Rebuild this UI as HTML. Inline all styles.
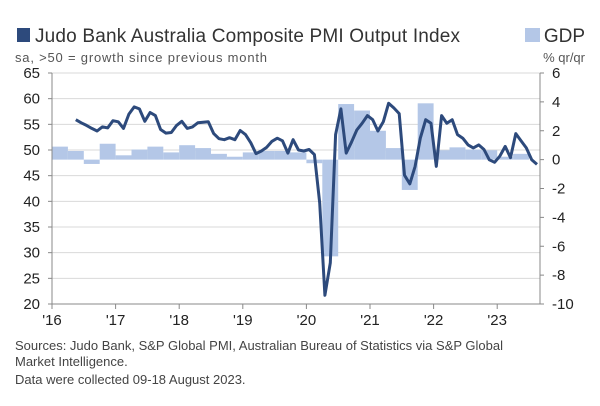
<!DOCTYPE html>
<html><head><meta charset="utf-8"><style>
body{margin:0;background:#fff;width:600px;height:401px;overflow:hidden;font-family:"Liberation Sans",sans-serif}
</style></head><body>
<svg id="chart" width="600" height="401" xmlns="http://www.w3.org/2000/svg" font-family="Liberation Sans, sans-serif">
<rect x="17" y="28" width="13" height="14" fill="#2d4a7c"/>
<text x="35" y="42" font-size="19" fill="#333" textLength="425">Judo Bank Australia Composite PMI Output Index</text>
<rect x="525" y="28" width="15" height="14" fill="#b4c7e7"/>
<text x="585" y="42" font-size="19" fill="#333" text-anchor="end">GDP</text>
<text x="15" y="62" font-size="13" fill="#555" textLength="252">sa, &gt;50 = growth since previous month</text>
<text x="585" y="62" font-size="13" fill="#555" text-anchor="end">% qr/qr</text>
<g id="grid"></g><g id="bars"></g><g id="axes"></g><g id="line"></g>
<text x="15" y="350" font-size="13" fill="#444">Sources: Judo Bank, S&amp;P Global PMI, Australian Bureau of Statistics via S&amp;P Global</text>
<text x="15" y="366" font-size="13" fill="#444">Market Intelligence.</text>
<text x="15" y="384" font-size="13" fill="#444">Data were collected 09-18 August 2023.</text>
</svg>
<script>
const leftTicks=[20,25,30,35,40,45,50,55,60,65];
const rightTicks=[-10,-8,-6,-4,-2,0,2,4,6];
const yearLabels=["'16","'17","'18","'19","'20","'21","'22","'23"];
const gdp=[0.9,0.6,-0.3,1.1, 0.3,0.7,0.9,0.5, 1.0,0.8,0.4,0.2, 0.5,0.6,0.6,0.5, -0.25,-6.7,3.85,3.4, 2.0,0.8,-2.1,3.9, 0.65,0.85,0.7,0.65, 0.2,0.4];
const pmiStart=4;
const pmi=[55.9,55.3,54.8,54.2,53.7,54.5,54.3,55.7,55.5,54.2,57.0,58.4,58.0,55.6,57.3,56.7,54.0,53.3,53.4,54.8,55.6,54.2,54.5,55.3,55.4,55.5,53.2,52.2,52.0,52.4,52.0,53.8,53.0,51.4,49.3,49.8,50.5,51.7,52.3,51.8,49.4,52.0,50.0,49.8,50.1,49.1,39.7,21.7,28.0,53.0,58.0,49.4,51.5,53.9,55.2,56.7,55.9,53.7,55.5,59.1,58.2,57.1,45.1,43.4,46.8,52.3,55.9,55.2,46.8,56.7,55.2,55.9,53.0,52.3,51.0,50.4,51.0,50.1,48.1,47.6,48.8,50.7,48.5,53.2,51.8,50.4,48.1,47.2];
const X0=52,X1=540,YT=73,YB=304,PX_YEAR=63.6;
const yL=v=>YT+(65-v)*(YB-YT)/45;
const yR=v=>YT+(6-v)*(YB-YT)/16;
const xM=m=>X0+m*PX_YEAR/12;
const NS="http://www.w3.org/2000/svg";
function mk(tag,attrs,parent){const e=document.createElementNS(NS,tag);for(const k in attrs)e.setAttribute(k,attrs[k]);document.getElementById(parent).appendChild(e);return e;}
leftTicks.forEach(v=>{
 const g=mk('line',{x1:X0,x2:X1,y1:yL(v),y2:yL(v),stroke:'#d9d9d9','stroke-width':1},'grid');
 
 
 const t=mk('text',{x:40,y:yL(v)+5,'font-size':15,fill:'#222','text-anchor':'end'},'axes');t.textContent=v;
 
 
 mk('line',{x1:X0-4,x2:X0,y1:yL(v),y2:yL(v),stroke:'#888'},'axes');
});
rightTicks.forEach(v=>{
 const t=mk('text',{x:552,y:yR(v)+5,'font-size':15,fill:'#222'},'axes');t.textContent=v;
 
 
 mk('line',{x1:X1,x2:X1+4,y1:yR(v),y2:yR(v),stroke:'#888'},'axes');
});
yearLabels.forEach((s,i)=>{
 const x=X0+i*PX_YEAR;
 mk('line',{x1:x,x2:x,y1:YB,y2:YB+5,stroke:'#888'},'axes');
 const t=mk('text',{x:x,y:YB+21,'font-size':15,fill:'#222','text-anchor':'middle'},'axes');t.textContent=s;
 
 
});
const la=mk('line',{x1:X0,x2:X0,y1:YT,y2:YB,stroke:'#888'},'axes');


const ra=mk('line',{x1:X1,x2:X1,y1:YT,y2:YB,stroke:'#888'},'axes');


const ba=mk('line',{x1:X0,x2:X1,y1:YB,y2:YB,stroke:'#888'},'axes');


gdp.forEach((v,q)=>{
 const y0=yR(0),y1=yR(v);
 const r=mk('rect',{x:xM(q*3),y:Math.min(y0,y1),width:PX_YEAR/4,height:Math.abs(y1-y0),fill:'#b4c7e7'},'bars');
 
 
});
const pts=pmi.map((v,i)=>xM(pmiStart+i+0.5).toFixed(1)+','+yL(v).toFixed(1)).join(' ');
const pl=mk('polyline',{points:pts,fill:'none',stroke:'#2d4a7c','stroke-width':3,'stroke-linejoin':'round'},'line');


</script>
</body></html>
